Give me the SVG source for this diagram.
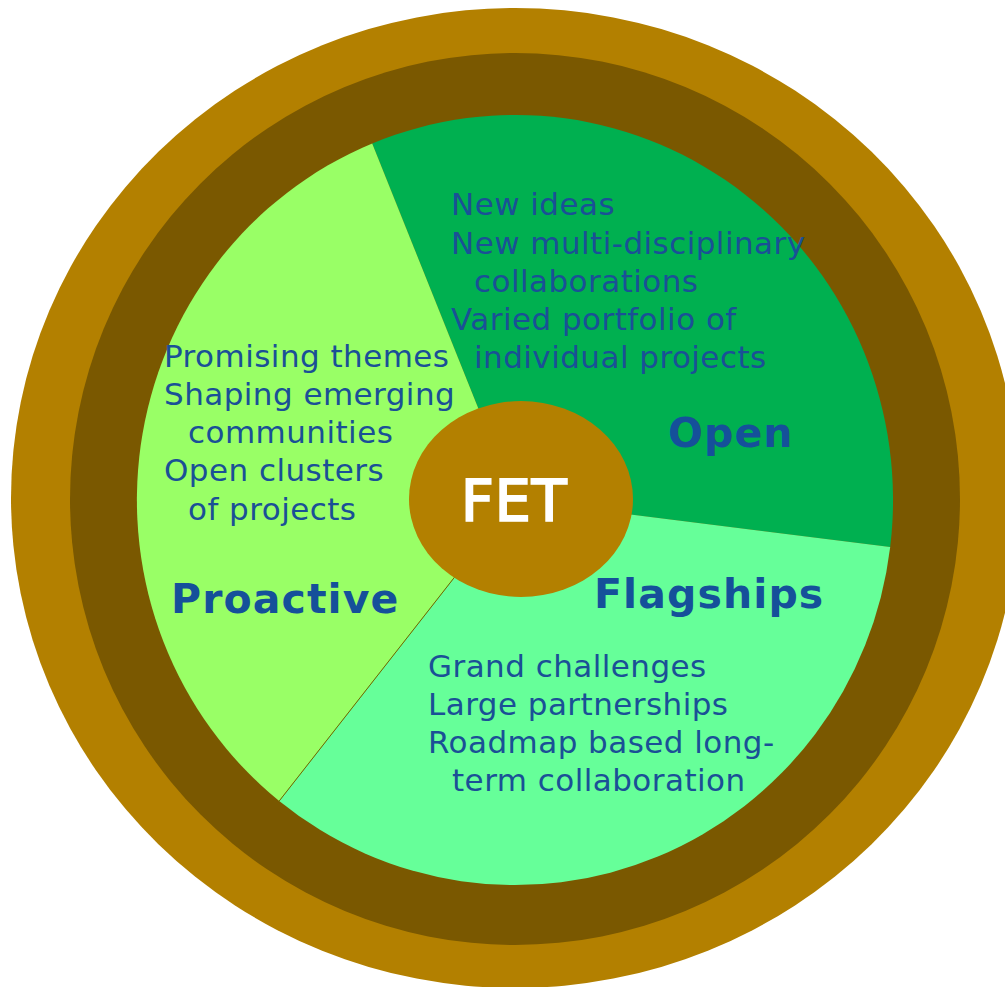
<svg xmlns="http://www.w3.org/2000/svg" width="1005" height="987" viewBox="0 0 1005 987">
<style>
.body{font-family:"DejaVu Sans","Verdana",sans-serif;font-size:31px;fill:#1A5096;letter-spacing:0.45px}
.label{font-family:"DejaVu Sans","Verdana",sans-serif;font-size:41px;font-weight:bold;fill:#15509A;letter-spacing:1.1px}
.fet{font-family:"DejaVu Sans","Verdana",sans-serif;font-size:57px;fill:#FFFFFF;stroke:#FFFFFF;stroke-width:2;letter-spacing:1px}
</style>
<rect width="1005" height="987" fill="#FFFFFF"/>
<g id="rings">
<ellipse cx="515" cy="498" rx="504" ry="490" fill="#B38000"/>
<ellipse cx="515" cy="499" rx="445" ry="446" fill="#7A5800"/>
</g>
<g id="open">
<path d="M515,500 L372.2,143.5 A378,385 0 0 1 890.2,547 Z" fill="#00B050"/>
<text class="body" x="451" y="215">New ideas</text>
<text class="body" x="451" y="253.5">New multi-disciplinary</text>
<text class="body" x="474" y="291.8">collaborations</text>
<text class="body" x="451" y="330">Varied portfolio of</text>
<text class="body" x="474" y="368.4">individual projects</text>
<text class="label" x="668" y="447">Open</text>
</g>
<g id="flagships">
<path d="M515,500 L890.2,547 A378,385 0 0 1 279.2,801 Z" fill="#66FF99"/>
<text class="body" x="428" y="677">Grand challenges</text>
<text class="body" x="428" y="715">Large partnerships</text>
<text class="body" x="428" y="753">Roadmap based long-</text>
<text class="body" x="452" y="791">term collaboration</text>
<text class="label" x="594" y="608">Flagships</text>
</g>
<g id="proactive">
<path d="M515,500 L279.2,801 A378,385 0 0 1 372.2,143.5 Z" fill="#99FF66"/>
<text class="body" x="164" y="366.5">Promising themes</text>
<text class="body" x="164" y="404.8">Shaping emerging</text>
<text class="body" x="188" y="443">communities</text>
<text class="body" x="164" y="481.3">Open clusters</text>
<text class="body" x="188" y="519.6">of projects</text>
<text class="label" x="171" y="613">Proactive</text>
</g>
<g id="connectors">
<line x1="515" y1="500" x2="279.2" y2="801" stroke="#6E6A00" stroke-width="1"/>
</g>
<g id="fet">
<ellipse cx="521" cy="499" rx="112" ry="98" fill="#B38000"/>
<text class="fet" x="461" y="521">FET</text>
</g>
</svg>
